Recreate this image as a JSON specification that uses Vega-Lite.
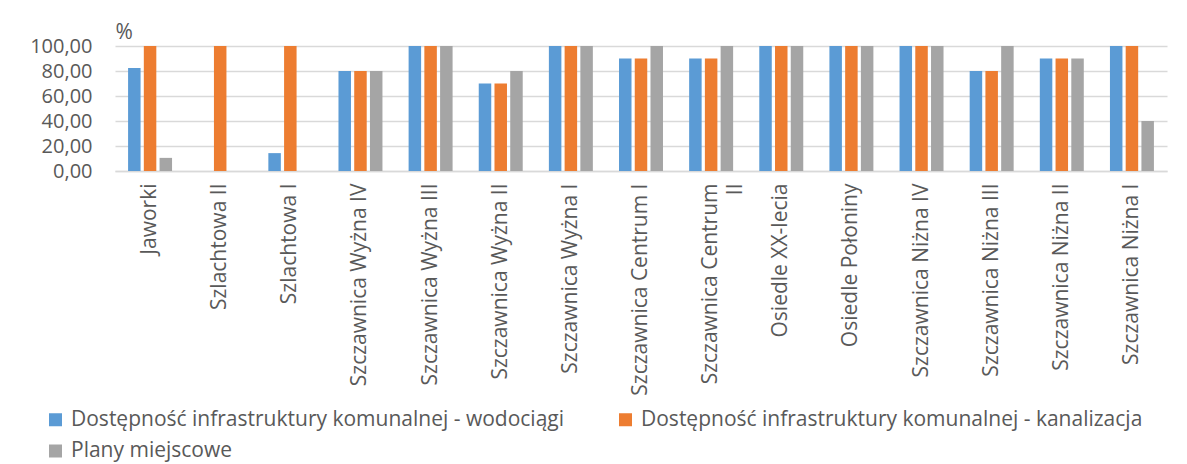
{
  "$schema": "https://vega.github.io/schema/vega-lite/v6.json",
  "width": 1052,
  "height": 125,
  "autosize": {"type": "none"},
  "padding": {"left": 115, "top": 46, "right": 20, "bottom": 293},
  "background": "#ffffff",
  "data": {
    "values": [
      {"obszar": "Jaworki", "seria": "Dostępność infrastruktury komunalnej - wodociągi", "wartosc": 82.5},
      {"obszar": "Jaworki", "seria": "Dostępność infrastruktury komunalnej - kanalizacja", "wartosc": 100},
      {"obszar": "Jaworki", "seria": "Plany miejscowe", "wartosc": 10.5},
      {"obszar": "Szlachtowa II", "seria": "Dostępność infrastruktury komunalnej - wodociągi", "wartosc": 0},
      {"obszar": "Szlachtowa II", "seria": "Dostępność infrastruktury komunalnej - kanalizacja", "wartosc": 100},
      {"obszar": "Szlachtowa II", "seria": "Plany miejscowe", "wartosc": 0},
      {"obszar": "Szlachtowa I", "seria": "Dostępność infrastruktury komunalnej - wodociągi", "wartosc": 14.3},
      {"obszar": "Szlachtowa I", "seria": "Dostępność infrastruktury komunalnej - kanalizacja", "wartosc": 100},
      {"obszar": "Szlachtowa I", "seria": "Plany miejscowe", "wartosc": 0},
      {"obszar": "Szczawnica Wyżna IV", "seria": "Dostępność infrastruktury komunalnej - wodociągi", "wartosc": 80},
      {"obszar": "Szczawnica Wyżna IV", "seria": "Dostępność infrastruktury komunalnej - kanalizacja", "wartosc": 80},
      {"obszar": "Szczawnica Wyżna IV", "seria": "Plany miejscowe", "wartosc": 80},
      {"obszar": "Szczawnica Wyżna III", "seria": "Dostępność infrastruktury komunalnej - wodociągi", "wartosc": 100},
      {"obszar": "Szczawnica Wyżna III", "seria": "Dostępność infrastruktury komunalnej - kanalizacja", "wartosc": 100},
      {"obszar": "Szczawnica Wyżna III", "seria": "Plany miejscowe", "wartosc": 100},
      {"obszar": "Szczawnica Wyżna II", "seria": "Dostępność infrastruktury komunalnej - wodociągi", "wartosc": 70},
      {"obszar": "Szczawnica Wyżna II", "seria": "Dostępność infrastruktury komunalnej - kanalizacja", "wartosc": 70},
      {"obszar": "Szczawnica Wyżna II", "seria": "Plany miejscowe", "wartosc": 80},
      {"obszar": "Szczawnica Wyżna I", "seria": "Dostępność infrastruktury komunalnej - wodociągi", "wartosc": 100},
      {"obszar": "Szczawnica Wyżna I", "seria": "Dostępność infrastruktury komunalnej - kanalizacja", "wartosc": 100},
      {"obszar": "Szczawnica Wyżna I", "seria": "Plany miejscowe", "wartosc": 100},
      {"obszar": "Szczawnica Centrum I", "seria": "Dostępność infrastruktury komunalnej - wodociągi", "wartosc": 90},
      {"obszar": "Szczawnica Centrum I", "seria": "Dostępność infrastruktury komunalnej - kanalizacja", "wartosc": 90},
      {"obszar": "Szczawnica Centrum I", "seria": "Plany miejscowe", "wartosc": 100},
      {"obszar": "Szczawnica Centrum II", "seria": "Dostępność infrastruktury komunalnej - wodociągi", "wartosc": 90},
      {"obszar": "Szczawnica Centrum II", "seria": "Dostępność infrastruktury komunalnej - kanalizacja", "wartosc": 90},
      {"obszar": "Szczawnica Centrum II", "seria": "Plany miejscowe", "wartosc": 100},
      {"obszar": "Osiedle XX-lecia", "seria": "Dostępność infrastruktury komunalnej - wodociągi", "wartosc": 100},
      {"obszar": "Osiedle XX-lecia", "seria": "Dostępność infrastruktury komunalnej - kanalizacja", "wartosc": 100},
      {"obszar": "Osiedle XX-lecia", "seria": "Plany miejscowe", "wartosc": 100},
      {"obszar": "Osiedle Połoniny", "seria": "Dostępność infrastruktury komunalnej - wodociągi", "wartosc": 100},
      {"obszar": "Osiedle Połoniny", "seria": "Dostępność infrastruktury komunalnej - kanalizacja", "wartosc": 100},
      {"obszar": "Osiedle Połoniny", "seria": "Plany miejscowe", "wartosc": 100},
      {"obszar": "Szczawnica Niżna IV", "seria": "Dostępność infrastruktury komunalnej - wodociągi", "wartosc": 100},
      {"obszar": "Szczawnica Niżna IV", "seria": "Dostępność infrastruktury komunalnej - kanalizacja", "wartosc": 100},
      {"obszar": "Szczawnica Niżna IV", "seria": "Plany miejscowe", "wartosc": 100},
      {"obszar": "Szczawnica Niżna III", "seria": "Dostępność infrastruktury komunalnej - wodociągi", "wartosc": 80},
      {"obszar": "Szczawnica Niżna III", "seria": "Dostępność infrastruktury komunalnej - kanalizacja", "wartosc": 80},
      {"obszar": "Szczawnica Niżna III", "seria": "Plany miejscowe", "wartosc": 100},
      {"obszar": "Szczawnica Niżna II", "seria": "Dostępność infrastruktury komunalnej - wodociągi", "wartosc": 90},
      {"obszar": "Szczawnica Niżna II", "seria": "Dostępność infrastruktury komunalnej - kanalizacja", "wartosc": 90},
      {"obszar": "Szczawnica Niżna II", "seria": "Plany miejscowe", "wartosc": 90},
      {"obszar": "Szczawnica Niżna I", "seria": "Dostępność infrastruktury komunalnej - wodociągi", "wartosc": 100},
      {"obszar": "Szczawnica Niżna I", "seria": "Dostępność infrastruktury komunalnej - kanalizacja", "wartosc": 100},
      {"obszar": "Szczawnica Niżna I", "seria": "Plany miejscowe", "wartosc": 40}
    ]
  },
  "mark": {"type": "bar"},
  "encoding": {
    "x": {
      "field": "obszar",
      "type": "nominal",
      "sort": null,
      "scale": {"paddingInner": 0.373, "paddingOuter": 0.1865},
      "axis": {
        "title": null,
        "labelAngle": 270,
        "labelAlign": "right",
        "labelBaseline": "middle",
        "labelPadding": 12,
        "labelFont": "Open Sans",
        "labelFontSize": 21,
        "labelColor": "#595959",
        "labelLimit": 400,
        "labelLineHeight": 25,
        "labelExpr": "datum.value == 'Szczawnica Centrum II' ? ['Szczawnica Centrum', 'II'] : datum.value",
        "ticks": false,
        "domainColor": "#d9d9d9",
        "domainWidth": 1.5,
        "grid": false
      }
    },
    "xOffset": {
      "field": "seria",
      "type": "nominal",
      "scale": {
        "domain": ["Dostępność infrastruktury komunalnej - wodociągi", "Dostępność infrastruktury komunalnej - kanalizacja", "Plany miejscowe"],
        "paddingInner": 0.206,
        "paddingOuter": 0
      }
    },
    "y": {
      "field": "wartosc",
      "type": "quantitative",
      "scale": {"domain": [0, 100], "nice": false},
      "axis": {
        "values": [0, 20, 40, 60, 80, 100],
        "labelExpr": "replace(format(datum.value, '.2f'), '.', ',')",
        "labelFont": "Open Sans",
        "labelFontSize": 20,
        "labelColor": "#595959",
        "labelPadding": 23,
        "ticks": false,
        "domain": false,
        "gridColor": "#d9d9d9",
        "gridWidth": 1.5,
        "title": "%",
        "titleAngle": 0,
        "titleX": 0,
        "titleY": -8,
        "titleAlign": "left",
        "titleBaseline": "alphabetic",
        "titleFont": "Open Sans",
        "titleFontSize": 21,
        "titleFontWeight": "normal",
        "titleColor": "#595959"
      }
    },
    "color": {
      "field": "seria",
      "type": "nominal",
      "scale": {
        "domain": ["Dostępność infrastruktury komunalnej - wodociągi", "Dostępność infrastruktury komunalnej - kanalizacja", "Plany miejscowe"],
        "range": ["#5b9bd5", "#ed7d31", "#a5a5a5"]
      },
      "legend": {
        "title": null,
        "orient": "none",
        "legendX": -70,
        "legendY": 363,
        "direction": "horizontal",
        "columns": 2,
        "columnPadding": 50,
        "rowPadding": 9.5,
        "symbolType": "square",
        "symbolSize": 169,
        "symbolStrokeWidth": 0,
        "labelOffset": 5,
        "labelFont": "Open Sans",
        "labelFontSize": 21,
        "labelColor": "#595959",
        "labelLimit": 800
      }
    }
  },
  "config": {
    "view": {"stroke": null},
    "axis": {"gridDash": []}
  }
}
